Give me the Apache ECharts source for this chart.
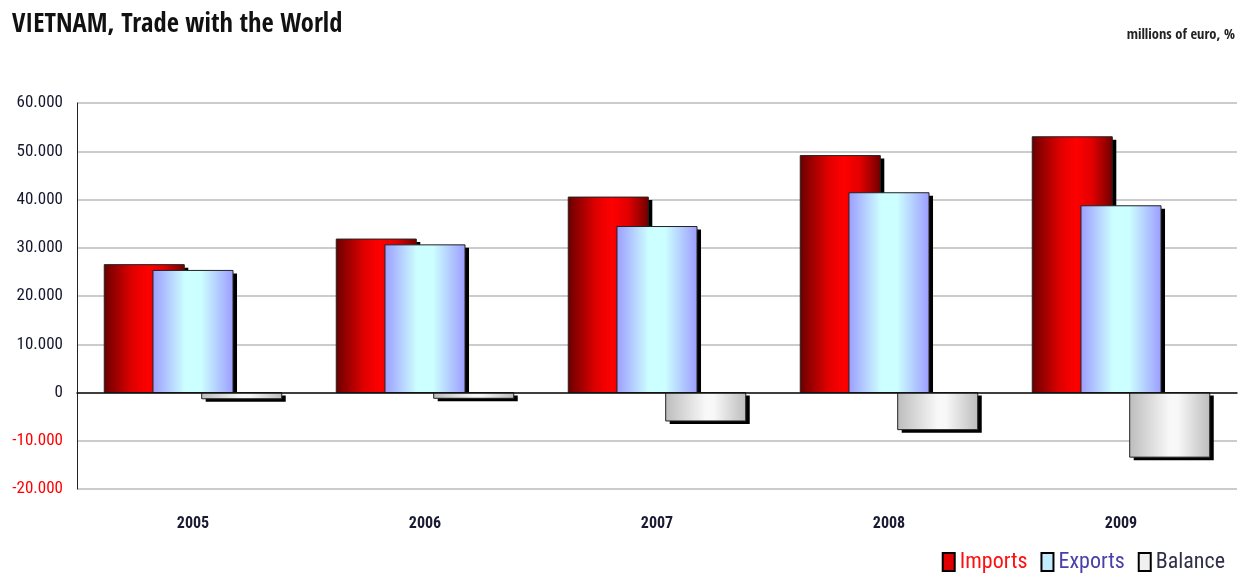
<!DOCTYPE html>
<html>
<head>
<meta charset="utf-8">
<script src="https://cdn.jsdelivr.net/npm/echarts@6/dist/echarts.min.js"></script>
<style>html,body{margin:0;padding:0;background:#fff}#chart{width:1240px;height:576px}</style>
</head>
<body>
<div id="chart"></div>
<script>
var years = ['2005', '2006', '2007', '2008', '2009'];
var imports = [26500, 31800, 40500, 49100, 53000];
var exports = [25300, 30600, 34400, 41400, 38700];
var balance = [-1300, -1200, -5900, -7700, -13400];
var seriesNames = ['Imports', 'Exports', 'Balance'];

function hGrad(stops) {
  return new echarts.graphic.LinearGradient(0, 0, 1, 0, stops.map(function (s) { return { offset: s[0], color: s[1] }; }));
}
var fills = [
  [[0, '#6a0000'], [0.35, '#e00000'], [0.55, '#ff0000'], [0.75, '#e00000'], [1, '#700000']],
  [[0, '#9c9cff'], [0.4, '#ccffff'], [0.6, '#ccffff'], [1, '#9c9cff']],
  [[0, '#bcbcbc'], [0.5, '#f8f8f8'], [0.6, '#f8f8f8'], [1, '#bcbcbc']]
];
var baseColors = ['#e00000', '#c4ecff', '#f0f0f0'];

function fmt(v) {
  var s = Math.abs(v).toString().replace(/\B(?=(\d{3})+(?!\d))/g, '.');
  return (v < 0 ? '-' : '') + s;
}

function makeRender(sIdx) {
  return function (params, api) {
    var xi = api.value(0), v = api.value(1);
    var p0 = api.coord([xi, 0]);
    var p1 = api.coord([xi, v]);
    var band = api.size([1, 0])[0];
    var w = band * 0.345;
    var step = band * 0.21;
    var cx = p0[0] + (sIdx - 1) * step;
    var left = cx - w / 2;
    var top = Math.min(p0[1], p1[1]);
    var h = Math.abs(p1[1] - p0[1]);
    var sh = v >= 0 ? Math.max(h - 3, 0) : h;
    return {
      type: 'group',
      children: [
        { type: 'rect', shape: { x: left + 4, y: top + 3, width: w, height: sh }, style: { fill: '#000' } },
        { type: 'rect', shape: { x: left, y: top, width: w, height: h }, style: { fill: hGrad(fills[sIdx]), stroke: '#222', lineWidth: 1 } }
      ]
    };
  };
}
function pairs(arr) { return arr.map(function (v, i) { return [i, v]; }); }

var chart = echarts.init(document.getElementById('chart'), null, { renderer: 'canvas' });
chart.setOption({
  animation: false,
  backgroundColor: '#fff',
  title: [{
    text: 'VIETNAM, Trade with the World',
    left: 7, top: 7,
    textStyle: { fontFamily: 'Open Sans Condensed', fontWeight: 'bold', fontSize: 26.5, color: '#111' }
  }, {
    text: 'millions of euro, %',
    right: 0, top: 23,
    textStyle: { fontFamily: 'Open Sans Condensed', fontWeight: 'bold', fontSize: 14.5, color: '#222' }
  }],
  legend: {
    right: 10, top: 546,
    itemWidth: 12, itemHeight: 18, itemGap: 13,
    icon: 'rect',
    textStyle: { fontFamily: 'Roboto Condensed', fontSize: 22 },
    data: [
      { name: 'Imports', itemStyle: { color: '#e00000', borderColor: '#000', borderWidth: 2 }, textStyle: { color: '#ff1010' } },
      { name: 'Exports', itemStyle: { color: '#c4ecff', borderColor: '#000', borderWidth: 2 }, textStyle: { color: '#4a40a8' } },
      { name: 'Balance', itemStyle: { color: '#f0f0f0', borderColor: '#000', borderWidth: 2 }, textStyle: { color: '#303048' } }
    ]
  },
  grid: { left: 77, right: 3, top: 103, bottom: 87, containLabel: false },
  xAxis: [{
    type: 'category',
    data: years,
    position: 'bottom',
    axisLine: { show: false, onZero: false },
    axisTick: { show: false },
    axisLabel: { margin: 27, fontFamily: 'Roboto Condensed', fontWeight: 'bold', fontSize: 16, color: '#1a1a33' },
    splitLine: { show: false }
  }, {
    type: 'category',
    data: years,
    position: 'bottom',
    axisLine: { show: true, onZero: true, lineStyle: { color: '#111', width: 1.5 } },
    axisTick: { show: false },
    axisLabel: { show: false },
    splitLine: { show: false },
    z: 5
  }],
  yAxis: {
    type: 'value',
    min: -20000, max: 60000, interval: 10000,
    axisLine: { show: true, lineStyle: { color: '#222', width: 1 } },
    axisTick: { show: false },
    axisLabel: {
      margin: 14,
      fontFamily: 'Roboto Condensed', fontSize: 17,
      formatter: fmt,
      color: function (v) { return Number(v) < 0 ? '#ff0000' : '#15152e'; }
    },
    splitLine: { show: true, lineStyle: { color: '#cccccc', width: 2 } }
  },
  series: [imports, exports, balance].map(function (arr, i) {
    return {
      name: seriesNames[i], type: 'custom', xAxisIndex: 0,
      itemStyle: { color: baseColors[i] },
      renderItem: makeRender(i),
      encode: { x: 0, y: 1 },
      data: pairs(arr),
      z: 2 + i
    };
  })
});
</script>
</body>
</html>
